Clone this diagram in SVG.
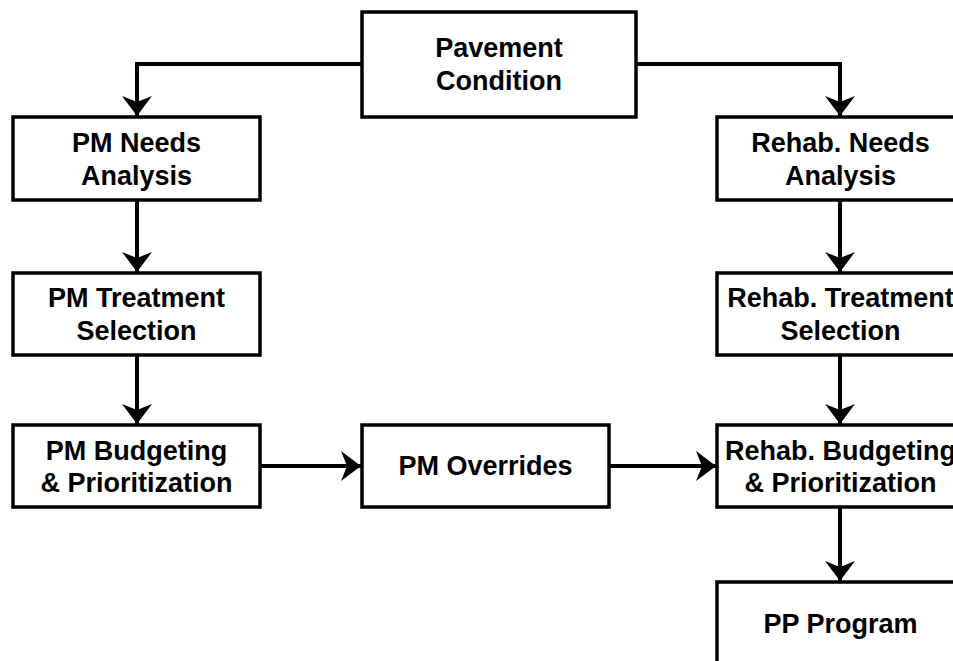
<svg xmlns="http://www.w3.org/2000/svg" width="953" height="661" viewBox="0 0 953 661">
<defs>
<style>
.box{fill:#fff;stroke:#000;stroke-width:3.5}
.t{font-family:"Liberation Sans",Arial,sans-serif;font-weight:bold;font-size:27px;text-anchor:middle;fill:#000}
.c{fill:none;stroke:#000;stroke-width:4}
</style>
<marker id="ah" viewBox="0 0 20 30" refX="20" refY="15" markerWidth="20" markerHeight="30" markerUnits="userSpaceOnUse" orient="auto">
<path d="M0,0 L20,15 L0,30 L6,15 Z" fill="#000"/>
</marker>
</defs>
<rect width="953" height="661" fill="#fff"/>
<g id="connectors">
<path class="c" d="M362,64 H137 V116" marker-end="url(#ah)"/>
<path class="c" d="M636,64 H840 V116" marker-end="url(#ah)"/>
<path class="c" d="M137,200 V272" marker-end="url(#ah)"/>
<path class="c" d="M137,355 V424" marker-end="url(#ah)"/>
<path class="c" d="M260,466 H361" marker-end="url(#ah)"/>
<path class="c" d="M609,466 H716" marker-end="url(#ah)"/>
<path class="c" d="M840,200 V272" marker-end="url(#ah)"/>
<path class="c" d="M840,355 V424" marker-end="url(#ah)"/>
<path class="c" d="M840,507 V581" marker-end="url(#ah)"/>
</g>
<g id="pavement">
<rect class="box" x="362" y="12" width="274" height="105"/>
<text class="t" x="499" y="57">Pavement</text>
<text class="t" x="499" y="90">Condition</text>
</g>
<g id="pm-needs">
<rect class="box" x="13" y="117" width="247" height="83"/>
<text class="t" x="136.5" y="152">PM Needs</text>
<text class="t" x="136.5" y="185">Analysis</text>
</g>
<g id="pm-treatment">
<rect class="box" x="13" y="273" width="247" height="82"/>
<text class="t" x="136.5" y="307">PM Treatment</text>
<text class="t" x="136.5" y="340">Selection</text>
</g>
<g id="pm-budgeting">
<rect class="box" x="13" y="425" width="247" height="82"/>
<text class="t" x="136.5" y="460">PM Budgeting</text>
<text class="t" x="136.5" y="492">&amp; Prioritization</text>
</g>
<g id="pm-overrides">
<rect class="box" x="362" y="425" width="247" height="82"/>
<text class="t" x="485.5" y="475">PM Overrides</text>
</g>
<g id="rehab-needs">
<rect class="box" x="717" y="117" width="247" height="83"/>
<text class="t" x="840.5" y="152">Rehab. Needs</text>
<text class="t" x="840.5" y="185">Analysis</text>
</g>
<g id="rehab-treatment">
<rect class="box" x="717" y="273" width="247" height="82"/>
<text class="t" x="840.5" y="307">Rehab. Treatment</text>
<text class="t" x="840.5" y="340">Selection</text>
</g>
<g id="rehab-budgeting">
<rect class="box" x="717" y="425" width="247" height="82"/>
<text class="t" x="840.5" y="460">Rehab. Budgeting</text>
<text class="t" x="840.5" y="492">&amp; Prioritization</text>
</g>
<g id="pp-program">
<rect class="box" x="717" y="582" width="247" height="100"/>
<text class="t" x="840.5" y="633">PP Program</text>
</g>
</svg>
